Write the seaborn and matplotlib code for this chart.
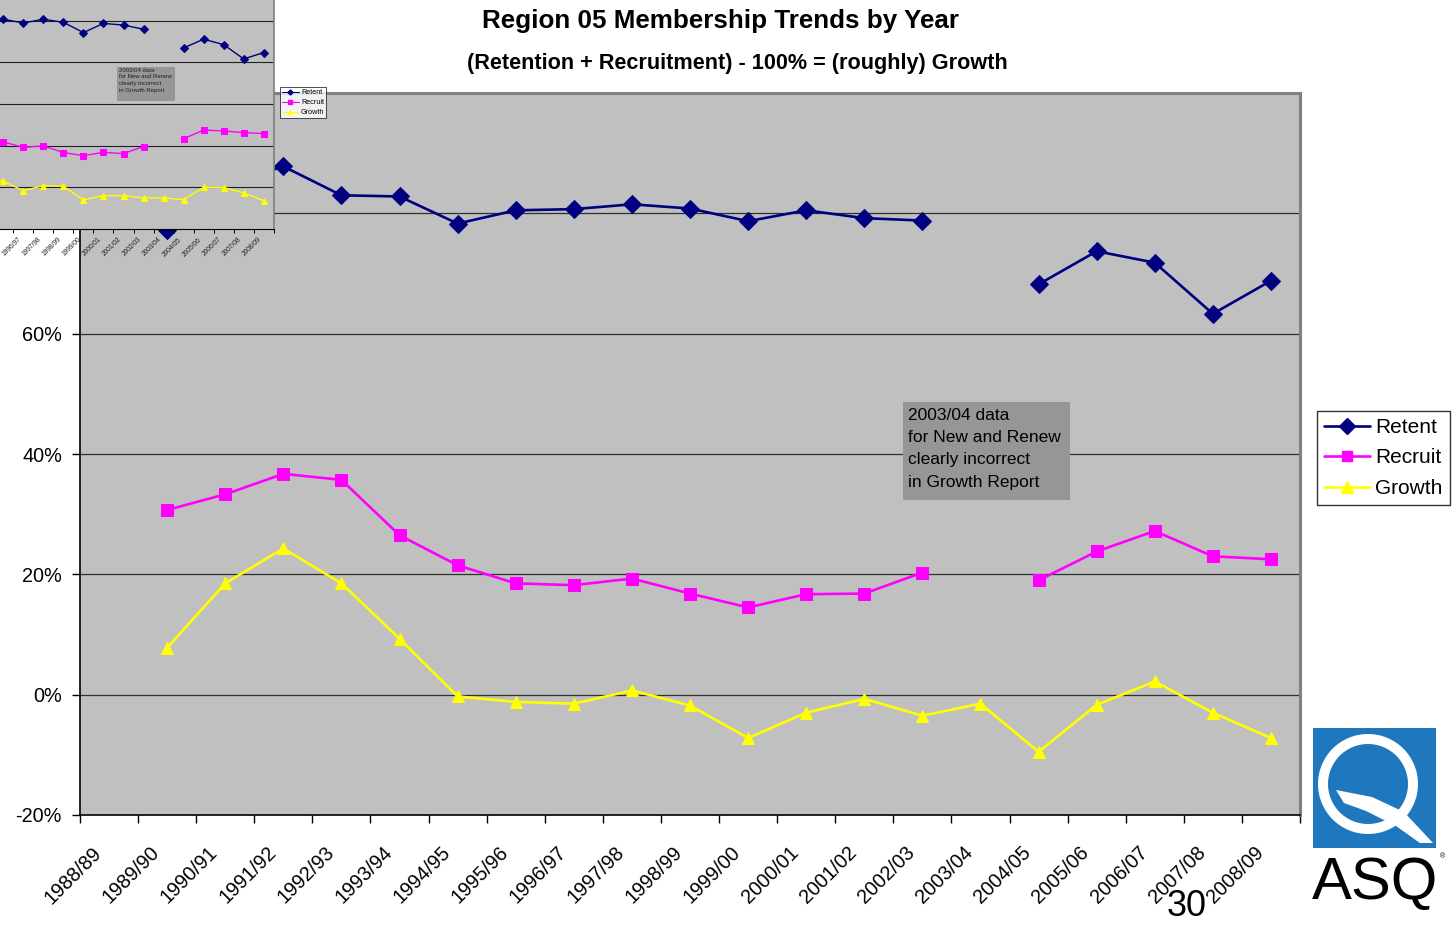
import numpy as np
import pandas as pd
import matplotlib
matplotlib.use("Agg")
import matplotlib.pyplot as plt
import seaborn as sns
from matplotlib.lines import Line2D
from matplotlib.patches import Rectangle, Polygon, Wedge

# ---------------- data ----------------
years = ['1988/89', '1989/90', '1990/91', '1991/92', '1992/93', '1993/94', '1994/95',
         '1995/96', '1996/97', '1997/98', '1998/99', '1999/00', '2000/01', '2001/02',
         '2002/03', '2003/04', '2004/05', '2005/06', '2006/07', '2007/08', '2008/09']
nan = np.nan
retent = [nan, 77.3, 84.7, 87.8, 83.0, 82.8, 78.3, 80.5, 80.7, 81.5, 80.8, 78.7,
          80.5, 79.2, 78.8, nan, 68.2, 73.7, 71.8, 63.3, 68.8]
recruit = [nan, 30.7, 33.3, 36.7, 35.7, 26.5, 21.5, 18.5, 18.2, 19.3, 16.8, 14.5,
           16.7, 16.8, 20.3, nan, 19.0, 23.8, 27.2, 23.0, 22.5]
growth = [nan, 7.8, 18.5, 24.3, 18.5, 9.3, -0.3, -1.2, -1.5, 0.7, -1.8, -7.2,
          -3.0, -0.7, -3.5, -1.5, -9.5, -1.7, 2.2, -3.0, -7.2]

# older pasted copy of the chart (inset, top-left), visible part only
inset_retent = [nan, nan, nan, nan, nan, nan, 80.5, 80.8, 79.0, 80.8, 79.3, 74.4,
                78.8, 78.0, 76.0, nan, 67.0, 71.2, 68.6, 61.7, 64.8]
inset_recruit = [nan, nan, nan, nan, nan, nan, 22.5, 21.8, 19.2, 19.9, 16.7, 15.2,
                 16.8, 16.2, 19.6, nan, 23.4, 27.5, 27.1, 26.3, 25.8]
inset_growth = [nan, nan, nan, nan, nan, nan, 4.0, 2.9, -1.6, 0.8, 0.5, -6.1,
                -4.0, -4.0, -5.1, -5.1, -5.9, 0.0, -0.1, -2.7, -6.4]

series_names = ['Retent', 'Recruit', 'Growth']
title = 'Region 05 Membership Trends by Year'
subtitle = '(Retention + Recruitment) - 100% = (roughly) Growth'
note = '2003/04 data\nfor New and Renew\nclearly incorrect\nin Growth Report'
yticks = [-20, 0, 20, 40, 60, 80, 100]

colors = {'Retent': '#000080', 'Recruit': '#FF00FF', 'Growth': '#FFFF00'}
markers = {'Retent': 'D', 'Recruit': 's', 'Growth': '^'}


def to_long(values, name):
    df = pd.DataFrame({'x': np.arange(len(values)), 'v': values})
    df['seg'] = np.cumsum(pd.isna(df['v']).astype(int))
    df['series'] = name
    return df.dropna()


sns.set_theme(style='white')
plt.rcParams['font.family'] = ['Liberation Sans', 'DejaVu Sans']
plt.rcParams['text.color'] = 'black'
plt.rcParams['xtick.color'] = 'black'
plt.rcParams['ytick.color'] = 'black'
plt.rcParams['axes.labelcolor'] = 'black'

W, H = 1454, 927
fig = plt.figure(figsize=(W / 100, H / 100), dpi=100)
fig.patch.set_facecolor('white')


def fx(px):
    return px / W


def fy(py):
    return 1 - py / H


# ---------------- main axes ----------------
ax = fig.add_axes([fx(80), fy(815), fx(1300) - fx(80), fy(93) - fy(815)])
ax.set_facecolor('#C0C0C0')

main = {'Retent': retent, 'Recruit': recruit, 'Growth': growth}
msize = {'Retent': 9.5, 'Recruit': 8.5, 'Growth': 9}
for name in series_names:
    d = to_long(main[name], name)
    sns.lineplot(data=d, x='x', y='v', units='seg', estimator=None, ax=ax,
                 color=colors[name], marker=markers[name], markersize=msize[name],
                 markeredgecolor=colors[name], linewidth=1.9, legend=False, zorder=3)

ax.set_xlim(-0.5, 20.5)
ax.set_ylim(-20, 100)
ax.set_yticks(yticks)
ax.set_yticklabels([f'{t}%' for t in yticks], fontsize=14.3)
# label anchors sit slightly left of the category centres (as in the original)
ax.set_xticks(np.arange(21) - 0.18)
ax.set_xticklabels(years, fontsize=14.3, rotation=45, ha='right', va='center',
                   rotation_mode='anchor')
ax.set_xticks(np.arange(-0.5, 21, 1), minor=True)
ax.tick_params(axis='x', which='major', length=0, pad=25)
ax.tick_params(axis='x', which='minor', length=6, width=1, color='black', bottom=True)
ax.tick_params(axis='y', which='major', length=6, width=1, color='black', left=True, pad=7)
ax.set_xlabel('')
ax.set_ylabel('')
ax.grid(False)
for t in yticks[1:-1]:
    ax.axhline(t, color='#303030', lw=0.9, zorder=1)
for s in ['left', 'bottom']:
    ax.spines[s].set_color('black')
    ax.spines[s].set_linewidth(1.2)
for s in ['top', 'right']:
    ax.spines[s].set_color('#808080')
    ax.spines[s].set_linewidth(2.2)

handles = [Line2D([0], [0], color=colors[n], marker=markers[n], markersize=msize[n] * 0.9,
                  lw=1.9, label=n) for n in series_names]
leg = fig.legend(handles=handles, loc='center left', bbox_to_anchor=(fx(1317), fy(458)),
                 frameon=True, fancybox=False, edgecolor='black', fontsize=15,
                 handlelength=2.2, handletextpad=0.25, borderpad=0.35, labelspacing=0.55,
                 borderaxespad=0)
leg.get_frame().set_linewidth(1.0)

# ---------------- titles ----------------
fig.text(fx(721), fy(21), title, ha='center', va='center', fontsize=18.7, fontweight='bold')
fig.text(fx(737), fy(64), subtitle, ha='center', va='center', fontsize=15.6, fontweight='bold')

# ---------------- overlay for annotations ----------------
ov = fig.add_axes([0, 0, 1, 1], zorder=5)
ov.set_xlim(0, W)
ov.set_ylim(H, 0)
ov.axis('off')
ov.patch.set_alpha(0)

ov.add_patch(Rectangle((903, 402), 167, 98, facecolor='#969696', edgecolor='none'))
ov.text(908, 408, note, ha='left', va='top', fontsize=12.5, linespacing=1.6, color='black')

# page number
ov.text(1187, 907, '30', ha='center', va='center', fontsize=26, color='black')

# ASQ logo
ov.add_patch(Rectangle((1313, 728), 123, 120, facecolor='#1F78BE', edgecolor='none'))
ov.add_patch(Wedge((1368, 784), 50, 0, 360, width=10, facecolor='white', edgecolor='none'))
ov.add_patch(Polygon([(1336, 790), (1372, 797), (1404, 812), (1433, 843), (1420, 843),
                      (1396, 826), (1366, 811), (1344, 803)],
                     closed=True, facecolor='white', edgecolor='none'))
ov.text(1375, 884, 'ASQ', ha='center', va='center', fontsize=43, color='black')
ov.text(1442, 857, '®', ha='center', va='center', fontsize=5, color='black')

# ---------------- inset (older pasted copy of chart) ----------------
iw = 20.03
ileft = -146.9
ibottom = 228.9
itop = ibottom - 6 * 41.6
inset = fig.add_axes([fx(ileft), fy(ibottom), fx(ileft + 21 * iw) - fx(ileft), fy(itop) - fy(ibottom)],
                     zorder=10)
inset.set_facecolor('#C0C0C0')
ins = {'Retent': inset_retent, 'Recruit': inset_recruit, 'Growth': inset_growth}
imsize = {'Retent': 3.8, 'Recruit': 3.8, 'Growth': 4.2}
for name in series_names:
    d = to_long(ins[name], name)
    sns.lineplot(data=d, x='x', y='v', units='seg', estimator=None, ax=inset,
                 color=colors[name], marker=markers[name], markersize=imsize[name],
                 markeredgecolor=colors[name], linewidth=1.0, legend=False, zorder=3)
inset.set_xlim(-0.5, 20.5)
inset.set_ylim(-20, 100)
inset.set_yticks(yticks)
inset.set_yticklabels([])
inset.set_xticks(np.arange(21) - 0.15)
inset.set_xticklabels(years, fontsize=4.8, rotation=45, ha='right', va='center',
                      rotation_mode='anchor', color='#202020')
inset.set_xticks(np.arange(-0.5, 21, 1), minor=True)
inset.tick_params(axis='x', which='major', length=0, pad=7)
inset.tick_params(axis='x', which='minor', length=3, width=0.7, color='black', bottom=True)
inset.set_xlabel('')
inset.set_ylabel('')
inset.grid(False)
for t in yticks[1:-1]:
    inset.axhline(t, color='#202020', lw=0.8, zorder=1)
for s in ['left', 'bottom']:
    inset.spines[s].set_color('black')
    inset.spines[s].set_linewidth(0.8)
for s in ['top', 'right']:
    inset.spines[s].set_color('#808080')
    inset.spines[s].set_linewidth(1.2)

ihandles = [Line2D([0], [0], color=colors[n], marker=markers[n], markersize=2.6,
                   lw=0.8, label=n) for n in series_names]
ileg = inset.legend(handles=ihandles, loc='upper left', bbox_to_anchor=(fx(280), fy(87)),
                    bbox_transform=fig.transFigure, frameon=True, fancybox=False,
                    edgecolor='black', fontsize=5.2, handlelength=2.3, handletextpad=0.3,
                    borderpad=0.3, labelspacing=0.4, borderaxespad=0)
ileg.get_frame().set_linewidth(0.6)

ov2 = fig.add_axes([0, 0, 1, 1], zorder=12)
ov2.set_xlim(0, W)
ov2.set_ylim(H, 0)
ov2.axis('off')
ov2.patch.set_alpha(0)
ov2.add_patch(Rectangle((117, 67), 58, 34, facecolor='#969696', edgecolor='none'))
ov2.text(119, 67.5, note, ha='left', va='top', fontsize=4.3, linespacing=1.45, color='#202020')

fig.savefig('out.png', dpi=100, facecolor='white')
